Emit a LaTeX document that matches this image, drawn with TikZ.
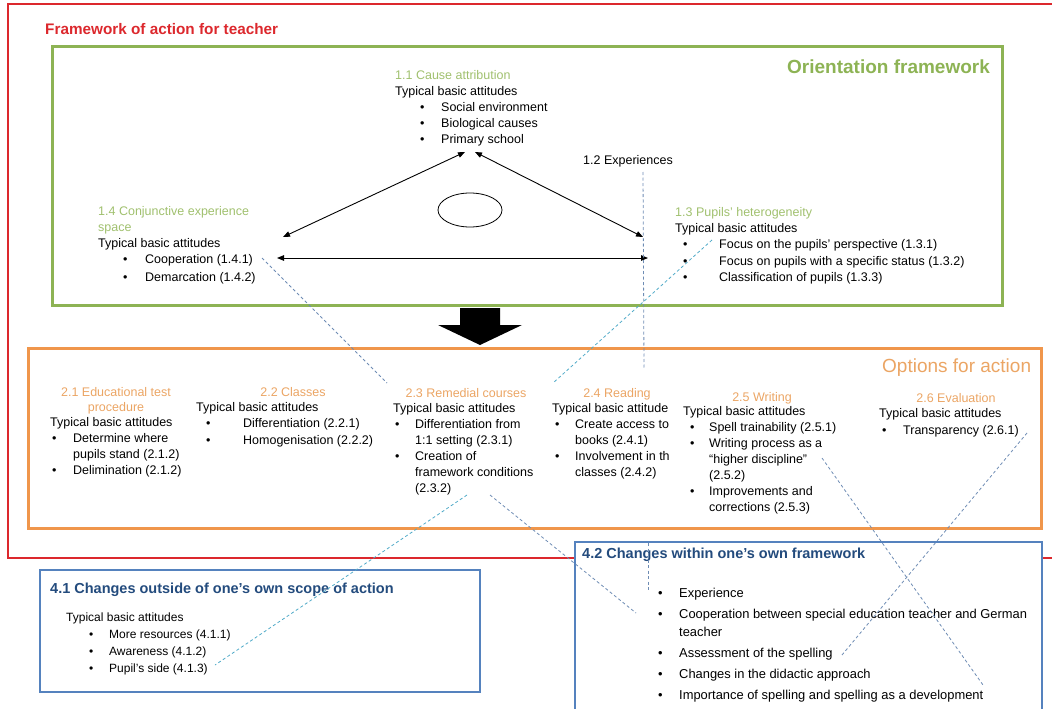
\documentclass[tikz,border=0pt]{standalone}
\usepackage{fontspec}
\setmainfont{Liberation Sans}
\usetikzlibrary{arrows.meta,shapes.geometric}

\definecolor{frred}{RGB}{220,40,45}
\definecolor{frgreen}{RGB}{141,179,84}
\definecolor{hdgreen}{RGB}{160,192,110}
\definecolor{frorange}{RGB}{240,150,75}
\definecolor{hdorange}{RGB}{235,165,100}
\definecolor{frblue}{RGB}{85,130,190}
\definecolor{hdblue}{RGB}{35,75,125}
\definecolor{linkblue}{RGB}{110,140,180}
\definecolor{linkteal}{RGB}{80,170,200}

% bullet: indent, gap to text
\newcommand{\blt}[2]{\hspace*{#1}\makebox[#2][l]{\textbullet}}

\begin{document}
\begin{tikzpicture}[x=1pt,y=-1pt]
  \tikzstyle{blk}=[align=left,inner sep=0pt,anchor=north west];
  \tikzstyle{ohead}=[align=center,inner sep=0pt,anchor=north,text=hdorange];
  \tikzstyle{link}=[dashed,dash pattern=on 3pt off 2.5pt,line width=0.8pt,draw=linkblue];
  \tikzstyle{rel}=[{Triangle[length=7pt,width=5.5pt]}-{Triangle[length=7pt,width=5.5pt]},line width=0.9pt];

  \clip (0,0) rectangle (1052,709);

  % frames
  \draw [frred, line width=2pt] (8,4) rectangle (1075,558);
  \draw [frgreen, line width=3pt] (52,47) rectangle (1002,305);
  \draw [frorange, line width=3pt] (28,348) rectangle (1041,528);
  \draw [frblue, line width=2.2pt] (40,570) rectangle (480,692);
  \draw [frblue, line width=2.2pt, fill=white] (575,542) rectangle (1042,740);

  \node [anchor=base west, inner sep=0pt, text=frred, font=\fontsize{15.3}{18}\selectfont\bfseries] (ttlframe) at (45,35) {Framework of action for teacher};
  \node [anchor=base west, inner sep=0pt, text=frgreen, font=\fontsize{19}{22}\selectfont\bfseries] (ttlorient) at (787,74) {Orientation framework};
  \node [anchor=base west, inner sep=0pt, text=hdorange, font=\fontsize{19}{22}\selectfont] (ttloptions) at (882,372) {Options for action};

  % orientation framework
  \node [blk, font=\fontsize{12.5}{16}\selectfont] (cause) at (395,70)
    {{\color{hdgreen}1.1 Cause attribution}\\
     Typical basic attitudes\\
     \blt{25pt}{21pt}Social environment\\
     \blt{25pt}{21pt}Biological causes\\
     \blt{25pt}{21pt}Primary school};
  \node [anchor=base west, inner sep=0pt, font=\fontsize{12.5}{16}\selectfont] (exper) at (583,164) {1.2 Experiences};
  \node [blk, font=\fontsize{12.5}{16.25}\selectfont] (hetero) at (675,207)
    {{\color{hdgreen}1.3 Pupils' heterogeneity}\\
     Typical basic attitudes\\
     \blt{8pt}{36pt}Focus on the pupils' perspective (1.3.1)\\
     \blt{8pt}{36pt}Focus on pupils with a specific status (1.3.2)\\
     \blt{8pt}{36pt}Classification of pupils (1.3.3)};
  \node [blk, font=\fontsize{12.5}{16}\selectfont] (conj) at (98,206)
    {{\color{hdgreen}1.4 Conjunctive experience}\\
     {\color{hdgreen}space}\\
     Typical basic attitudes\\
     \blt{25pt}{22pt}Cooperation (1.4.1)\\[2pt]
     \blt{25pt}{22pt}Demarcation (1.4.2)};
  \node [draw, ellipse, line width=0.8pt, minimum width=64pt, minimum height=34pt, inner sep=0pt] (ring) at (470,210) {};

  \coordinate (apexL) at (465,152);
  \coordinate (apexR) at (475,152);
  \coordinate (triL) at (283,237);
  \coordinate (triR) at (643,237);
  \coordinate (midL) at (277,258);
  \coordinate (midR) at (648,258);
  \draw [rel] (triL) -- (apexL);
  \draw [rel] (triR) -- (apexR);
  \draw [rel] (midL) -- (midR);

  % down arrow
  \fill (460,308) -- (500,308) -- (500,325) -- (522,325) -- (480,345) -- (438,325) -- (460,325) -- cycle;

  % options for action
  \node [ohead, font=\fontsize{12.5}{15}\selectfont] (testh) at (116,387) {2.1 Educational test\\procedure};
  \node [blk, font=\fontsize{12.5}{16}\selectfont] (test) at (50,417)
    {Typical basic attitudes\\
     \blt{2pt}{21pt}Determine where\\
     \hspace*{23pt}pupils stand (2.1.2)\\
     \blt{2pt}{21pt}Delimination (2.1.2)};
  \node [ohead, font=\fontsize{12.5}{15}\selectfont] (classh) at (293,387) {2.2 Classes};
  \node [blk, font=\fontsize{12.5}{16.5}\selectfont] (class) at (196,402)
    {Typical basic attitudes\\
     \blt{10pt}{37pt}Differentiation (2.2.1)\\
     \blt{10pt}{37pt}Homogenisation (2.2.2)};
  \node [ohead, font=\fontsize{12.5}{15}\selectfont] (remedh) at (466,388) {2.3 Remedial courses};
  \node [blk, font=\fontsize{12.5}{16}\selectfont] (remed) at (393,403)
    {Typical basic attitudes\\
     \blt{2pt}{20pt}Differentiation from\\
     \hspace*{22pt}1:1 setting (2.3.1)\\
     \blt{2pt}{20pt}Creation of\\
     \hspace*{22pt}framework conditions\\
     \hspace*{22pt}(2.3.2)};
  \node [ohead, font=\fontsize{12.5}{15}\selectfont] (readh) at (617,388) {2.4 Reading};
  \node [blk, font=\fontsize{12.5}{16}\selectfont] (read) at (552,403)
    {Typical basic attitude\\
     \blt{3pt}{20pt}Create access to\\
     \hspace*{23pt}books (2.4.1)\\
     \blt{3pt}{20pt}Involvement in th\\
     \hspace*{23pt}classes (2.4.2)};
  \node [ohead, font=\fontsize{12.5}{15}\selectfont] (writeh) at (762,392) {2.5 Writing};
  \node [blk, font=\fontsize{12.5}{16}\selectfont] (write) at (683,406)
    {Typical basic attitudes\\
     \blt{7pt}{19pt}Spell trainability (2.5.1)\\
     \blt{7pt}{19pt}Writing process as a\\
     \hspace*{26pt}“higher discipline”\\
     \hspace*{26pt}(2.5.2)\\
     \blt{7pt}{19pt}Improvements and\\
     \hspace*{26pt}corrections (2.5.3)};
  \node [ohead, font=\fontsize{12.5}{15}\selectfont] (evalh) at (956,393) {2.6 Evaluation};
  \node [blk, font=\fontsize{12.5}{17}\selectfont] (eval) at (879,408)
    {Typical basic attitudes\\
     \blt{3pt}{21pt}Transparency (2.6.1)};

  % changes
  \node [anchor=base west, inner sep=0pt, text=hdblue, font=\fontsize{14.5}{17}\selectfont\bfseries] (outsideh) at (50,593) {4.1 Changes outside of one’s own scope of action};
  \node [blk, font=\fontsize{12}{16.7}\selectfont] (outside) at (66,613)
    {Typical basic attitudes\\
     \blt{23pt}{20pt}More resources (4.1.1)\\
     \blt{23pt}{20pt}Awareness (4.1.2)\\
     \blt{23pt}{20pt}Pupil's side (4.1.3)};
  \node [anchor=base west, inner sep=0pt, text=hdblue, font=\fontsize{14.5}{17}\selectfont\bfseries] (withinh) at (582,558) {4.2 Changes within one’s own framework};
  \node [blk, font=\fontsize{12.9}{18}\selectfont] (within) at (658,588)
    {\blt{0pt}{21pt}Experience\\[3pt]
     \blt{0pt}{21pt}Cooperation between special education teacher and German\\
     \hspace*{21pt}teacher\\[3pt]
     \blt{0pt}{21pt}Assessment of the spelling\\[3pt]
     \blt{0pt}{21pt}Changes in the didactic approach\\[3pt]
     \blt{0pt}{21pt}Importance of spelling and spelling as a development};

  % links
  \coordinate (expA) at (643,172);
  \coordinate (expB) at (644,368);
  \coordinate (expC) at (648,543);
  \coordinate (expD) at (648,590);
  \draw [link] (expA) -- (expB);
  \draw [link] (expC) -- (expD);
  \coordinate (coopEnd) at (262,258);
  \coordinate (remedTop) at (387,383);
  \draw [link] (coopEnd) -- (remedTop);
  \coordinate (focusEnd) at (712,240);
  \coordinate (readTop) at (553,383);
  \draw [link, draw=linkteal] (focusEnd) -- (readTop);
  \coordinate (remedBL) at (467,495);
  \coordinate (pupilEnd) at (215,665);
  \draw [link, draw=linkteal] (remedBL) -- (pupilEnd);
  \coordinate (remedBR) at (490,495);
  \coordinate (coopGer) at (636,613);
  \draw [link] (remedBR) -- (coopGer);
  \coordinate (discEnd) at (822,458);
  \coordinate (develEnd) at (983,685);
  \draw [link] (discEnd) -- (develEnd);
  \coordinate (transEnd) at (1027,433);
  \coordinate (assessEnd) at (842,655);
  \draw [link] (transEnd) -- (assessEnd);

\end{tikzpicture}
\end{document}
